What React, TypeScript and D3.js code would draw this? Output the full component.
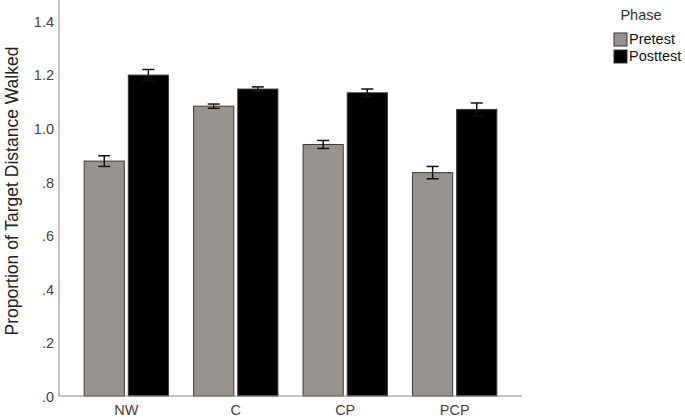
import React from 'react';
import * as d3 from 'd3';

const GROUPS = ['NW', 'C', 'CP', 'PCP'];
const PHASES = ['Pretest', 'Posttest'];
const PRETEST = [0.877, 1.082, 0.939, 0.834];
const POSTTEST = [1.198, 1.146, 1.132, 1.070];
const PRETEST_ERR = [0.02, 0.008, 0.015, 0.023];
const POSTTEST_ERR = [0.021, 0.008, 0.014, 0.024];
const Y_TICKS = [0, 0.2, 0.4, 0.6, 0.8, 1.0, 1.2, 1.4];

const COLORS = { Pretest: '#98938f', Posttest: '#000000' };
const FONT = '"Liberation Sans", Arial, sans-serif';

export default function App() {
  const width = 685;
  const height = 417;
  const left = 59, right = 522, top = 21, bottom = 396;

  const x = d3.scaleBand().domain(GROUPS).range([left, right]).padding(0.23);
  const xi = d3.scaleBand().domain(PHASES).range([0, x.bandwidth()]).paddingInner(0.09);
  const y = d3.scaleLinear().domain([0, 1.4]).range([bottom, top]);
  const fmt = (v: number) => (v === 0 ? '.0' : v < 1 ? d3.format('.1f')(v).replace(/^0/, '') : d3.format('.1f')(v));

  const rows = GROUPS.map((g, i) => [
    { g, phase: 'Pretest', v: PRETEST[i], e: PRETEST_ERR[i] },
    { g, phase: 'Posttest', v: POSTTEST[i], e: POSTTEST_ERR[i] },
  ]).flat();

  return (
    <svg width={width} height={height} style={{ position: 'absolute', left: 0, top: 0, background: '#fff' }}>
      {/* y tick labels */}
      {Y_TICKS.map(t => (
        <text key={t} x={left - 5} y={y(t) + 2} textAnchor="end" dominantBaseline="middle"
          fontFamily={FONT} fontSize={14.5} fill="#444">{fmt(t)}</text>
      ))}
      <text transform={`translate(13,191) rotate(-90)`} textAnchor="middle"
        dominantBaseline="middle" fontFamily={FONT} fontSize={17.5} fill="#222">
        Proportion of Target Distance Walked
      </text>

      {/* bars */}
      {rows.map(d => {
        const bx = (x(d.g) ?? 0) + (xi(d.phase) ?? 0);
        const cx = bx + xi.bandwidth() / 2;
        return (
          <g key={d.g + d.phase}>
            <rect x={bx} y={y(d.v)} width={xi.bandwidth()} height={bottom - y(d.v)}
              fill={COLORS[d.phase as 'Pretest' | 'Posttest']} stroke="#3a3a3a" strokeWidth={1} />
            <line x1={cx} x2={cx} y1={y(d.v + d.e)} y2={y(d.v - d.e)} stroke="#111" strokeWidth={1.5} />
            <line x1={cx - 6} x2={cx + 6} y1={y(d.v + d.e)} y2={y(d.v + d.e)} stroke="#111" strokeWidth={1.5} />
            <line x1={cx - 6} x2={cx + 6} y1={y(d.v - d.e)} y2={y(d.v - d.e)} stroke="#111" strokeWidth={1.5} />
          </g>
        );
      })}

      {/* axes */}
      <line x1={left} x2={left} y1={0} y2={bottom} stroke="#888" strokeWidth={1} />
      <line x1={left} x2={right} y1={bottom} y2={bottom} stroke="#888" strokeWidth={1} />
      {GROUPS.map(g => (
        <text key={g} x={(x(g) ?? 0) + x.bandwidth() / 2} y={411} textAnchor="middle" dominantBaseline="middle"
          fontFamily={FONT} fontSize={14.5} fill="#444">{g}</text>
      ))}

      {/* legend */}
      <text x={641} y={16} textAnchor="middle" dominantBaseline="middle" fontFamily={FONT} fontSize={14.5} fill="#333">Phase</text>
      {PHASES.map((p, i) => (
        <g key={p} transform={`translate(614,${33 + i * 17})`}>
          <rect x={0} y={0} width={13} height={13} fill={COLORS[p as 'Pretest' | 'Posttest']} stroke="#333" strokeWidth={1} />
          <text x={15} y={7} dominantBaseline="middle" fontFamily={FONT} fontSize={14.5} fill="#111">{p}</text>
        </g>
      ))}
    </svg>
  );
}
